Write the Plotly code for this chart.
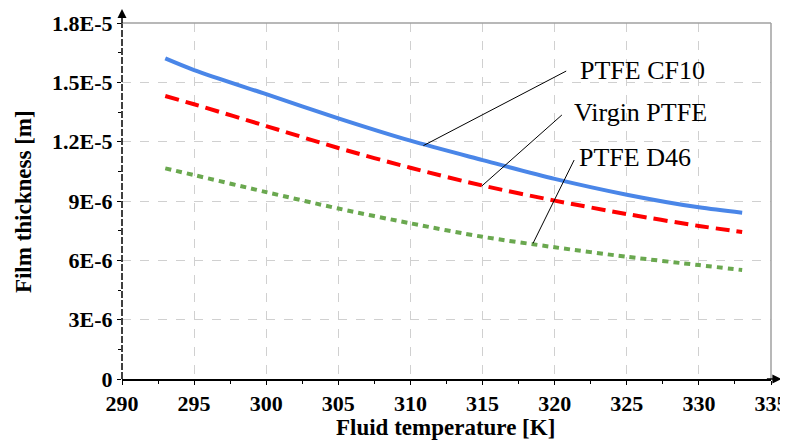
import plotly.graph_objects as go

temps = [293, 295, 300, 305, 310, 315, 320, 325, 330, 333]
cf10 = [16.21e-6, 15.62e-6, 14.40e-6, 13.18e-6, 12.05e-6, 11.07e-6, 10.12e-6, 9.32e-6, 8.68e-6, 8.41e-6]
virgin = [14.31e-6, 13.89e-6, 12.79e-6, 11.68e-6, 10.68e-6, 9.78e-6, 9.02e-6, 8.34e-6, 7.74e-6, 7.43e-6]
d46 = [10.65e-6, 10.31e-6, 9.45e-6, 8.62e-6, 7.87e-6, 7.19e-6, 6.66e-6, 6.18e-6, 5.76e-6, 5.51e-6]

y_tickvals = [0, 3e-6, 6e-6, 9e-6, 12e-6, 15e-6, 18e-6]
y_ticktext = ["0", "3E-6", "6E-6", "9E-6", "1.2E-5", "1.5E-5", "1.8E-5"]
x_tickvals = [290, 295, 300, 305, 310, 315, 320, 325, 330, 335]

labels = ["PTFE CF10", "Virgin PTFE", "PTFE D46"]
label_pos = [(321.6, 15.62e-6), (321.2, 13.45e-6), (321.55, 11.22e-6)]
leader_start = [(320.8, 15.57e-6), (320.5, 13.35e-6), (321.35, 11.07e-6)]
leader_end = [(310.9, 11.8e-6), (314.95, 9.76e-6), (318.5, 6.86e-6)]

x_title = "Fluid temperature [K]"
y_title = "Film thickness [m]"

font = "Liberation Serif, Times New Roman, DejaVu Serif, serif"

fig = go.Figure()
fig.add_trace(go.Scatter(x=temps, y=cf10, mode="lines", line=dict(color="#4a86e8", width=4, shape="spline", smoothing=0.8), name=labels[0]))
fig.add_trace(go.Scatter(x=temps, y=virgin, mode="lines", line=dict(color="#ff0000", width=4, dash="14px,7px", shape="spline", smoothing=0.8), name=labels[1]))
fig.add_trace(go.Scatter(x=temps, y=d46, mode="lines", line=dict(color="#6aa84f", width=4, dash="6px,5px", shape="spline", smoothing=0.8), name=labels[2]))

for (x0, y0), (x1, y1) in zip(leader_start, leader_end):
    fig.add_shape(type="line", x0=x0, y0=y0, x1=x1, y1=y1, xref="x", yref="y",
                  line=dict(color="black", width=1))

for lab, (x, y) in zip(labels, label_pos):
    fig.add_annotation(x=x, y=y, text=lab, showarrow=False, xanchor="left", yanchor="middle",
                       font=dict(family=font, size=26, color="black"))

# axis titles
fig.add_annotation(x=0.498, y=-0.1376, xref="paper", yref="paper", text="<b>" + x_title + "</b>",
                   showarrow=False, xanchor="center", yanchor="middle",
                   font=dict(family=font, size=23, color="black"))
fig.add_annotation(x=-0.1525, y=0.497, xref="paper", yref="paper", text="<b>" + y_title + "</b>",
                   showarrow=False, xanchor="center", yanchor="middle", textangle=-90,
                   font=dict(family=font, size=23, color="black"))

# left axis (dashed black)
fig.add_shape(type="line", x0=0, x1=0, y0=0, y1=1, xref="paper", yref="paper",
              line=dict(color="black", width=1.5, dash="7px,2px"))
# arrows
fig.add_annotation(x=0, y=1.04, xref="paper", yref="paper", ax=0, ay=16,
                   showarrow=True, arrowhead=2, arrowsize=1.2, arrowwidth=1.5, arrowcolor="black", text="")
fig.add_annotation(x=1.016, y=0, xref="paper", yref="paper", ax=-16, ay=0,
                   showarrow=True, arrowhead=2, arrowsize=1.2, arrowwidth=1.5, arrowcolor="black", text="")

fig.update_layout(
    width=788, height=441,
    margin=dict(l=114, r=25, t=15, b=70, autoexpand=False),
    paper_bgcolor="white", plot_bgcolor="white",
    showlegend=False,
    font=dict(family=font, color="black"),
)
fig.update_xaxes(
    range=[290, 335], tickvals=x_tickvals, ticks="outside", ticklen=4, tickcolor="black",
    tickfont=dict(family=font, size=22, color="black", weight="bold"),
    showgrid=True, gridcolor="#d0d0d0", griddash="dash", gridwidth=1,
    showline=True, linecolor="black", linewidth=1.5, mirror=False,
    zeroline=False, automargin=False,
    minor=dict(tickvals=[292.5 + 5 * i for i in range(9)], ticks="outside", ticklen=3, tickcolor="black", showgrid=False),
)
fig.update_yaxes(
    range=[0, 18e-6], tickvals=y_tickvals, ticktext=y_ticktext, ticks="outside", ticklen=4, tickcolor="black",
    tickfont=dict(family=font, size=22, color="black", weight="bold"),
    showgrid=True, gridcolor="#d0d0d0", griddash="dash", gridwidth=1,
    showline=False, zeroline=False, automargin=False,
    minor=dict(tickvals=[1.5e-6 + 3e-6 * i for i in range(6)], ticks="outside", ticklen=3, tickcolor="black", showgrid=False),
)
# top and right frame
fig.add_shape(type="line", x0=0, x1=1, y0=1, y1=1, xref="paper", yref="paper", line=dict(color="#a0a0a0", width=1.5))
fig.add_shape(type="line", x0=1, x1=1, y0=0, y1=1, xref="paper", yref="paper", line=dict(color="#a0a0a0", width=1.5))

fig.write_html("out.html")
